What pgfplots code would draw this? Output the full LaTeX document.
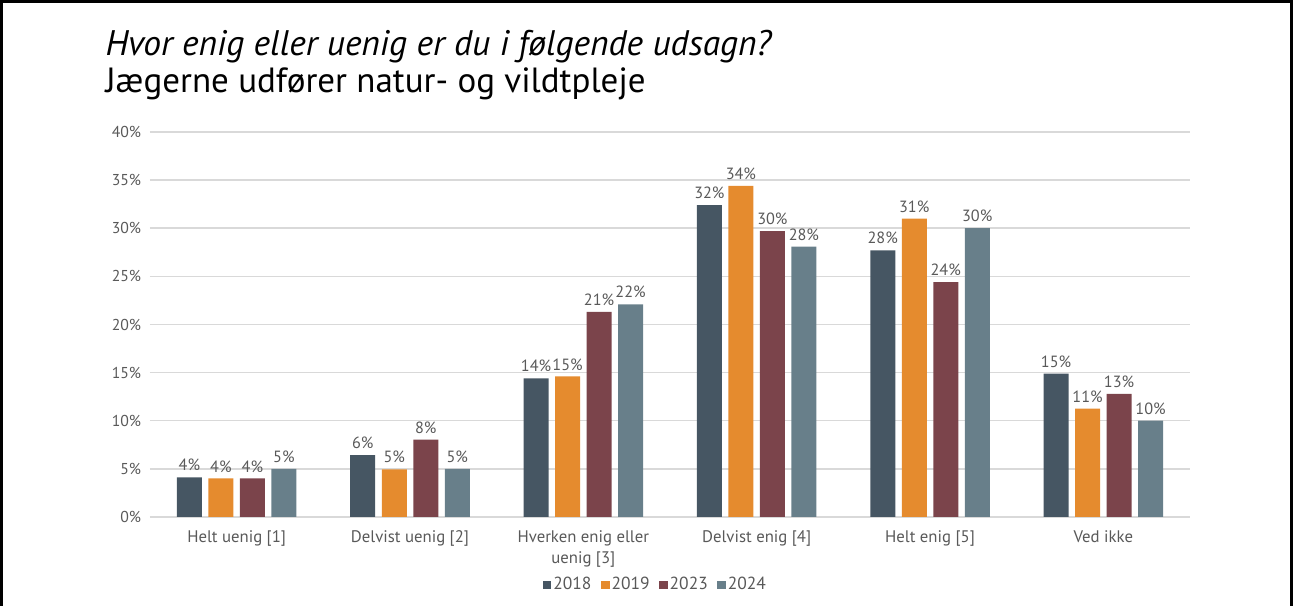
\documentclass[border=0pt]{standalone}
\usepackage{fontspec}
\setmainfont{PT Sans}
\usepackage{pgfplots}
\pgfplotsset{compat=1.18}
\definecolor{ink}{HTML}{595959}
\definecolor{gridc}{HTML}{D9D9D9}
\definecolor{cA}{HTML}{465663}
\definecolor{cB}{HTML}{E58B2E}
\definecolor{cC}{HTML}{7B444B}
\definecolor{cD}{HTML}{687F8A}
\pgfplotsset{/pgf/number format/assume math mode=true}
\begin{document}
\begin{tikzpicture}
\useasboundingbox (0pt,0pt) rectangle (517.2pt,242.4pt);
% frame (no bottom edge)
\draw[line width=0.9pt] (0.6pt,0pt) -- (0.6pt,241.8pt) -- (516.6pt,241.8pt) -- (516.6pt,0pt);
\node[anchor=base west, inner sep=0, font=\fontsize{14.2}{16}\selectfont\itshape] at (42pt,220pt) {Hvor enig eller uenig er du i følgende udsagn?};
\node[anchor=base west, inner sep=0, font=\fontsize{14}{16}\selectfont] at (42pt,205.4pt) {Jægerne udfører natur- og vildtpleje};
\begin{axis}[
  at={(60pt,35.6pt)}, anchor=south west,
  scale only axis,
  width=416pt, height=154pt,
  xmin=-0.5, xmax=5.5,
  ymin=0, ymax=40,
  ybar=2.6pt, bar width=10pt,
  axis line style={draw=none},
  major tick length=0pt,
  ytick={0,5,...,40},
  yticklabel={\pgfmathprintnumber{\tick}\%},
  ymajorgrids=true,
  grid style={gridc, line width=0.6pt},
  xtick={0,1,2,3,4,5},
  xticklabels={Helt uenig [1],Delvist uenig [2],{Hverken enig eller\\uenig [3]},Delvist enig [4],Helt enig [5],Ved ikke},
  xticklabel style={font=\fontsize{6.7}{8.2}\selectfont, color=ink, align=center, anchor=north, yshift=-2pt},
  yticklabel style={font=\fontsize{6.3}{8}\selectfont, color=ink},
  nodes near coords={\pgfmathprintnumber[fixed,precision=0]{\pgfplotspointmeta}\%},
  every node near coord/.append style={font=\fontsize{6.5}{8}\selectfont, color=ink, inner sep=2.3pt},
  legend columns=4,
  legend style={at={(0.486,-0.177)}, anchor=center, draw=none, fill=none,
    font=\fontsize{7}{8}\selectfont, text=ink,
    nodes={inner xsep=0.8pt},
    /tikz/every even column/.append style={column sep=3pt}},
  legend image code/.code={\fill[#1] (0pt,-1.7pt) rectangle (3.4pt,1.7pt);},
]
\addplot[fill=cA, draw=none] coordinates {(0,4.12) (1,6.44) (2,14.4) (3,32.4) (4,27.7) (5,14.9)};
\addplot[fill=cB, draw=none] coordinates {(0,4.0) (1,4.95) (2,14.6) (3,34.4) (4,31.0) (5,11.25)};
\addplot[fill=cC, draw=none] coordinates {(0,4.0) (1,8.03) (2,21.3) (3,29.7) (4,24.4) (5,12.8)};
\addplot[fill=cD, draw=none] coordinates {(0,5.0) (1,5.0) (2,22.1) (3,28.1) (4,30.0) (5,10.0)};
\legend{2018,2019,2023,2024}
\end{axis}
\end{tikzpicture}
\end{document}
